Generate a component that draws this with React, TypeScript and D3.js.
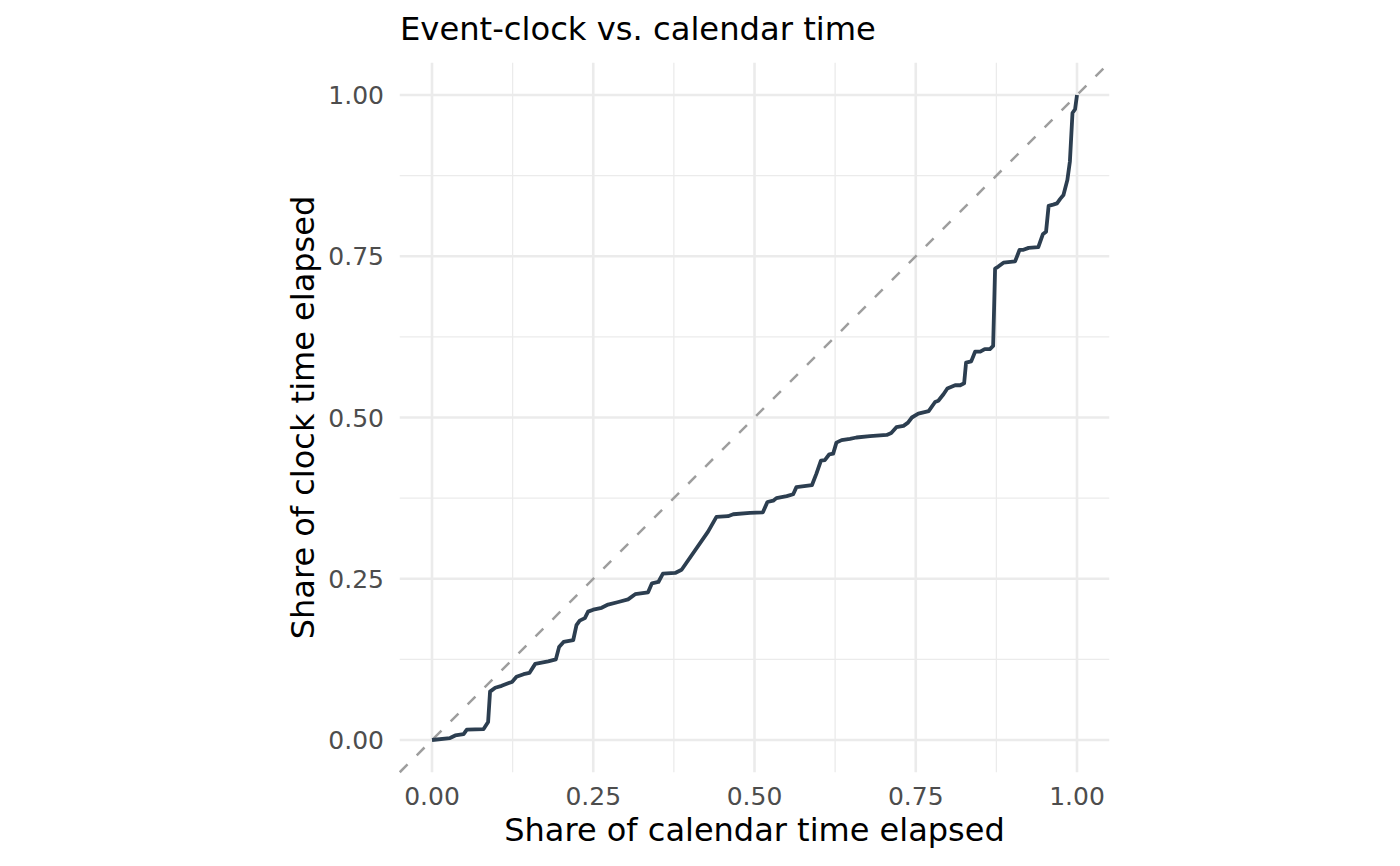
import * as d3 from "d3";

// Event-clock vs calendar time
const calendarShare = [
  0, 0.028, 0.036, 0.049, 0.054, 0.08, 0.087, 0.09, 0.098, 0.108, 0.118, 0.124, 0.131, 0.142,
  0.151, 0.16, 0.17, 0.18, 0.192, 0.197, 0.204, 0.219, 0.224, 0.229, 0.237, 0.242, 0.25, 0.263,
  0.273, 0.289, 0.304, 0.315, 0.335, 0.341, 0.351, 0.358, 0.377, 0.387, 0.428, 0.441, 0.459,
  0.467, 0.493, 0.513, 0.52, 0.529, 0.534, 0.55, 0.56, 0.565, 0.589, 0.596, 0.603, 0.609, 0.616,
  0.622, 0.627, 0.635, 0.648, 0.658, 0.679, 0.705, 0.712, 0.72, 0.731, 0.738, 0.744, 0.754, 0.77,
  0.78, 0.785, 0.793, 0.799, 0.811, 0.819, 0.825, 0.828, 0.836, 0.842, 0.85, 0.857, 0.865, 0.87,
  0.873, 0.878, 0.886, 0.904, 0.911, 0.917, 0.925, 0.94, 0.947, 0.952, 0.956, 0.963, 0.969,
  0.974, 0.979, 0.985, 0.989, 0.993, 0.997, 1.0,
];
const clockShare = [
  0, 0.003, 0.007, 0.009, 0.016, 0.017, 0.028, 0.075, 0.081, 0.084, 0.088, 0.09, 0.098, 0.102,
  0.104, 0.118, 0.12, 0.122, 0.125, 0.144, 0.152, 0.155, 0.178, 0.185, 0.189, 0.199, 0.202, 0.205,
  0.21, 0.214, 0.218, 0.226, 0.229, 0.243, 0.245, 0.258, 0.259, 0.264, 0.323, 0.346, 0.347,
  0.35, 0.352, 0.353, 0.369, 0.371, 0.375, 0.378, 0.381, 0.392, 0.395, 0.413, 0.433, 0.434, 0.443,
  0.444, 0.461, 0.465, 0.467, 0.469, 0.471, 0.473, 0.476, 0.485, 0.487, 0.492, 0.5, 0.506, 0.51,
  0.524, 0.526, 0.536, 0.545, 0.55, 0.55, 0.553, 0.585, 0.587, 0.602, 0.602, 0.606, 0.606, 0.611,
  0.731, 0.734, 0.74, 0.742, 0.76, 0.76, 0.763, 0.764, 0.784, 0.788, 0.828, 0.83, 0.832,
  0.839, 0.845, 0.868, 0.897, 0.972, 0.978, 1.0,
];
const majorTicks = [0, 0.25, 0.5, 0.75, 1];
const minorTicks = [0.125, 0.375, 0.625, 0.875];

const W = 1400;
const H = 866;
const font = "'DejaVu Sans', sans-serif";

export default function App() {
  const x = d3.scaleLinear().domain([-0.05, 1.05]).range([399.75, 1109.25]);
  const y = d3.scaleLinear().domain([-0.05, 1.05]).range([772.25, 62.75]);
  const pts = calendarShare.map((c, i) => [c, clockShare[i]] as [number, number]);
  const line = d3
    .line<[number, number]>()
    .x((d) => x(d[0]))
    .y((d) => y(d[1]));
  const fmt = d3.format(".2f");

  return (
    <svg
      width={W}
      height={H}
      viewBox={`0 0 ${W} ${H}`}
      style={{ position: "absolute", left: 0, top: 0, background: "#fff" }}
    >
      {/* Minor grid */}
      {minorTicks.map((t) => (
        <g key={`m${t}`}>
          <line x1={x(t)} x2={x(t)} y1={y(-0.05)} y2={y(1.05)} stroke="#ebebeb" strokeWidth={1.3} />
          <line x1={x(-0.05)} x2={x(1.05)} y1={y(t)} y2={y(t)} stroke="#ebebeb" strokeWidth={1.3} />
        </g>
      ))}
      {/* Major grid */}
      {majorTicks.map((t) => (
        <g key={`M${t}`}>
          <line x1={x(t)} x2={x(t)} y1={y(-0.05)} y2={y(1.05)} stroke="#ebebeb" strokeWidth={2.6} />
          <line x1={x(-0.05)} x2={x(1.05)} y1={y(t)} y2={y(t)} stroke="#ebebeb" strokeWidth={2.6} />
        </g>
      ))}
      {/* Diagonal reference */}
      <line
        x1={x(-0.05)}
        y1={y(-0.05)}
        x2={x(1.05)}
        y2={y(1.05)}
        stroke="#9e9e9e"
        strokeWidth={2.5}
        strokeDasharray="11,13"
      />
      {/* Series */}
      <path d={line(pts) ?? ""} fill="none" stroke="#2c3e50" strokeWidth={3.8} strokeLinejoin="round" />
      {/* Tick labels */}
      {majorTicks.map((t) => (
        <text key={`xt${t}`} x={x(t)} y={805} textAnchor="middle" fontFamily={font} fontSize={25} fill="#4d4d4d">
          {fmt(t)}
        </text>
      ))}
      {majorTicks.map((t) => (
        <text key={`yt${t}`} x={384} y={y(t)} dy="0.36em" textAnchor="end" fontFamily={font} fontSize={25} fill="#4d4d4d">
          {fmt(t)}
        </text>
      ))}
      {/* Titles */}
      <text x={400} y={40} fontFamily={font} fontSize={32.2} fill="#000">
        Event-clock vs. calendar time
      </text>
      <text x={x(0.5)} y={841} textAnchor="middle" fontFamily={font} fontSize={32} fill="#000">
        Share of calendar time elapsed
      </text>
      <text
        transform={`translate(314,${y(0.5)}) rotate(-90)`}
        textAnchor="middle"
        fontFamily={font}
        fontSize={32}
        fill="#000"
      >
        Share of clock time elapsed
      </text>
    </svg>
  );
}
